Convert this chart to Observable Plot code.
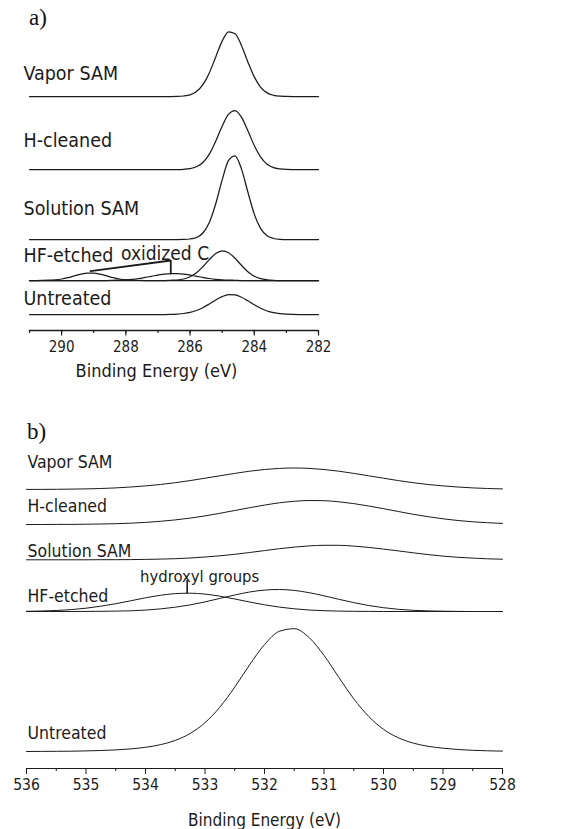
<!DOCTYPE html>
<html>
<head>
<meta charset="utf-8">
<script src="https://cdn.jsdelivr.net/npm/d3@7"></script>
<script src="https://cdn.jsdelivr.net/npm/@observablehq/plot@0.6"></script>
<style>
  body { margin: 0; background: #fff; }
  #fig { position: relative; width: 568px; height: 829px; overflow: hidden; }
  #fig svg { display: block; }
  .tag { position: absolute; font-family: "Liberation Serif", "Times New Roman", serif; font-size: 23px; line-height: 1; color: #111; }
  svg text { font-family: "DejaVu Sans Condensed", "DejaVu Sans", sans-serif; font-stretch: condensed; }
</style>
</head>
<body>
<div id="fig">
  <div id="panelA"></div>
  <div id="panelB"></div>
  <div class="tag" style="left:29px; top:6px;">a)</div>
  <div class="tag" style="left:27px; top:420px;">b)</div>
</div>
<script>
// ---------- a) C 1s spectra: [binding energy (eV), intensity (a.u.)] ----------
const c1sVapor = [[291,0],[286.6,0],[286.4,0.1],[286.2,0.5],[286.0,1.7],[285.8,4.9],[285.6,11.8],[285.4,23.6],[285.2,39.6],[285.0,55.4],[284.8,64.6],[284.6,62.8],[284.4,51.1],[284.2,34.6],[284.0,19.6],[283.8,9.2],[283.6,3.6],[283.4,1.2],[283.2,0.3],[283.0,0.1],[282.8,0],[282,0]];
const c1sHCleaned = [[291,0],[286.4,0],[286.2,0.2],[286.0,0.8],[285.8,2.7],[285.6,7.0],[285.4,15.4],[285.2,28.3],[285.0,43.3],[284.8,55.3],[284.6,58.9],[284.4,52.3],[284.2,38.8],[284.0,24.0],[283.8,12.4],[283.6,5.3],[283.4,1.9],[283.2,0.6],[283.0,0.1],[282.8,0],[282,0]];
const c1sSolution = [[291,0],[286.4,0],[286.2,0.1],[286.0,0.5],[285.8,2.0],[285.6,6.5],[285.4,17.1],[285.2,35.8],[285.0,59.6],[284.8,79.1],[284.6,83.7],[284.4,70.6],[284.2,47.5],[284.0,25.4],[283.8,10.9],[283.6,3.7],[283.4,1.0],[283.2,0.2],[283.0,0],[282,0]];
const c1sHFMain = [[291,0],[286.8,0],[286.6,0.2],[286.4,0.5],[286.2,1.5],[286.0,3.7],[285.8,7.7],[285.6,13.8],[285.4,20.9],[285.2,27.0],[285.0,29.7],[284.8,27.8],[284.6,22.2],[284.4,15.2],[284.2,8.8],[284.0,4.3],[283.8,1.8],[283.6,0.7],[283.4,0.2],[283.2,0],[282,0]];
const c1sHFOxidized1 = [[291,0],[290.8,0],[290.6,0.1],[290.4,0.3],[290.2,0.7],[290.0,1.5],[289.8,2.9],[289.6,4.7],[289.4,6.4],[289.2,7.5],[289.0,7.5],[288.8,6.4],[288.6,4.7],[288.4,2.9],[288.2,1.5],[288.0,0.7],[287.8,0.3],[287.6,0.1],[287.4,0],[282,0]];
const c1sHFOxidized2 = [[291,0],[288.6,0],[288.4,0.2],[288.2,0.4],[288.0,0.7],[287.8,1.2],[287.6,2.0],[287.4,3.1],[287.2,4.2],[287.0,5.4],[286.8,6.4],[286.6,6.9],[286.4,6.9],[286.2,6.4],[286.0,5.4],[285.8,4.2],[285.6,3.1],[285.4,2.0],[285.2,1.2],[285.0,0.7],[284.8,0.4],[284.6,0.2],[284.4,0],[282,0]];
const c1sUntreated = [[291,0],[286.8,0],[286.6,0.1],[286.4,0.4],[286.2,1.0],[286.0,2.1],[285.8,4.0],[285.6,6.8],[285.4,10.5],[285.2,14.5],[285.0,17.9],[284.8,19.8],[284.6,19.6],[284.4,17.3],[284.2,13.7],[284.0,9.7],[283.8,6.2],[283.6,3.5],[283.4,1.8],[283.2,0.8],[283.0,0.3],[282.8,0.1],[282.6,0],[282,0]];

const c1sNames = ["Vapor SAM", "H-cleaned", "Solution SAM", "HF-etched", "Untreated"];
const c1sOffsets = [234, 161, 91, 50, 16];          // vertical offset of each stacked spectrum (a.u.)
const c1sParts = [[c1sVapor], [c1sHCleaned], [c1sSolution], [c1sHFOxidized1, c1sHFOxidized2, c1sHFMain], [c1sUntreated]];
const c1sMajorTicks = [290, 288, 286, 284, 282];
const c1sMinorTicks = [291, 290, 289, 288, 287, 286, 285, 284, 283, 282];
// leader for the oxidized-carbon components, intensities above the HF-etched baseline
const oxidizedLeader = [[289.1, 9.3], [286.6, 20], [286.6, 6.9]];
const oxidizedNote = {E: 288.15, I: 20.5, text: "oxidized C"};

// ---------- b) O 1s spectra ----------
const o1sVapor = [[536.0,0.1],[535.75,0.1],[535.5,0.2],[535.25,0.4],[535.0,0.6],[534.75,1.0],[534.5,1.6],[534.25,2.5],[534.0,3.6],[533.75,5.0],[533.5,6.8],[533.25,8.9],[533.0,11.3],[532.75,13.7],[532.5,16.1],[532.25,18.3],[532.0,20.0],[531.75,21.1],[531.5,21.5],[531.25,21.1],[531.0,20.0],[530.75,18.3],[530.5,16.1],[530.25,13.7],[530.0,11.3],[529.75,8.9],[529.5,6.8],[529.25,5.0],[529.0,3.6],[528.75,2.5],[528.5,1.6],[528.25,1.0],[528.0,0.6]];
const o1sHCleaned = [[536.0,0],[535.75,0],[535.5,0.1],[535.25,0.1],[535.0,0.3],[534.75,0.5],[534.5,0.8],[534.25,1.3],[534.0,2.1],[533.75,3.2],[533.5,4.6],[533.25,6.4],[533.0,8.6],[532.75,11.2],[532.5,14.0],[532.25,16.8],[532.0,19.4],[531.75,21.7],[531.5,23.2],[531.25,24.0],[531.0,23.8],[530.75,22.7],[530.5,20.9],[530.25,18.5],[530.0,15.8],[529.75,13.0],[529.5,10.2],[529.25,7.8],[529.0,5.7],[528.75,4.0],[528.5,2.7],[528.25,1.8],[528.0,1.1]];
const o1sSolution = [[536.0,0],[535.0,0],[534.75,0.1],[534.5,0.1],[534.25,0.2],[534.0,0.4],[533.75,0.7],[533.5,1.1],[533.25,1.8],[533.0,2.8],[532.75,4.0],[532.5,5.5],[532.25,7.3],[532.0,9.2],[531.75,11.1],[531.5,12.7],[531.25,13.9],[531.0,14.5],[530.75,14.5],[530.5,13.7],[530.25,12.4],[530.0,10.7],[529.75,8.9],[529.5,7.0],[529.25,5.2],[529.0,3.7],[528.75,2.5],[528.5,1.7],[528.25,1.0],[528.0,0.6]];
const o1sHFHydroxyl = [[536.0,0.2],[535.75,0.5],[535.5,1.0],[535.25,1.9],[535.0,3.3],[534.75,5.3],[534.5,7.8],[534.25,10.7],[534.0,13.7],[533.75,16.2],[533.5,17.9],[533.25,18.3],[533.0,17.4],[532.75,15.3],[532.5,12.5],[532.25,9.5],[532.0,6.7],[531.75,4.4],[531.5,2.7],[531.25,1.5],[531.0,0.8],[530.75,0.4],[530.5,0.2],[530.25,0.1],[530.0,0],[528.0,0]];
const o1sHFMain = [[536.0,0],[535.25,0],[535.0,0.1],[534.75,0.2],[534.5,0.4],[534.25,0.7],[534.0,1.4],[533.75,2.6],[533.5,4.3],[533.25,6.6],[533.0,9.6],[532.75,13.1],[532.5,16.5],[532.25,19.5],[532.0,21.4],[531.75,22.0],[531.5,21.1],[531.25,18.8],[531.0,15.7],[530.75,12.2],[530.5,8.9],[530.25,6.0],[530.0,3.8],[529.75,2.2],[529.5,1.2],[529.25,0.6],[529.0,0.3],[528.75,0.1],[528.5,0],[528.0,0]];
const o1sUntreated = [[536.0,0],[535.75,0.1],[535.5,0.2],[535.25,0.3],[535.0,0.6],[534.75,1.0],[534.5,1.6],[534.25,2.6],[534.0,4.2],[533.75,6.8],[533.5,11.1],[533.25,18.0],[533.0,28.8],[532.75,44.4],[532.5,64.4],[532.25,86.7],[532.0,106.9],[531.75,120.2],[531.5,122.8],[531.25,113.9],[531.0,96.1],[530.75,74.1],[530.5,52.7],[530.25,35.1],[530.0,22.2],[529.75,13.7],[529.5,8.4],[529.25,5.2],[529.0,3.3],[528.75,2.0],[528.5,1.2],[528.25,0.7],[528.0,0.4]];

const o1sNames = ["Vapor SAM", "H-cleaned", "Solution SAM", "HF-etched", "Untreated"];
const o1sOffsets = [279, 244, 208.7, 157, 17];
const o1sParts = [[o1sVapor], [o1sHCleaned], [o1sSolution], [o1sHFHydroxyl, o1sHFMain], [o1sUntreated]];
const o1sMajorTicks = [536, 535, 534, 533, 532, 531, 530, 529, 528];
const o1sMinorTicks = [535.5, 534.5, 533.5, 532.5, 531.5, 530.5, 529.5, 528.5];
const hydroxylLeader = [[533.3, 18.6], [533.3, 31]];
const hydroxylNote = {E: 533.09, I: 29.3, text: "hydroxyl groups"};

const axisTitle = "Binding Energy (eV)";

// layout: how far each name sits above its baseline (px)
const c1sNameLift = [16.3, 22.2, 24.3, 18.7, 9.3];
const o1sNameLift = [22, 12.3, 2.6, 9.3, 12.7];

const ink = "#1b1b1b";

function toRows(parts, offsets) {
  return parts.flatMap((group, i) => group.flatMap((curve, j) =>
    curve.map(([E, I]) => ({E, y: offsets[i] + I, key: i + "-" + j}))));
}

// ---------- panel a ----------
const rowsA = toRows(c1sParts, c1sOffsets);
const hfA = c1sOffsets[3];
const chartA = Plot.plot({
  width: 568, height: 400,
  marginLeft: 29, marginRight: 250, marginTop: 20, marginBottom: 70,
  style: {background: "white", color: ink, overflow: "visible"},
  x: {domain: [291, 282]},
  y: {domain: [0, 310], axis: null},
  marks: [
    Plot.line(rowsA, {x: "E", y: "y", z: "key", curve: "monotone-x", stroke: ink, strokeWidth: 1.25}),
    Plot.line(oxidizedLeader, {x: d => d[0], y: d => hfA + d[1], stroke: ink, strokeWidth: 1.8}),
    Plot.text([oxidizedNote], {x: "E", y: d => hfA + d.I, text: "text", textAnchor: "start", lineAnchor: "bottom", fontSize: 19, fill: ink}),
    Plot.text(c1sNames, {frameAnchor: "left", y: (d, i) => c1sOffsets[i] + c1sNameLift[i], text: d => d, textAnchor: "start", lineAnchor: "bottom", dx: -6, fontSize: 19.5, fill: ink}),
    Plot.ruleY([0], {stroke: ink, strokeWidth: 1.3}),
    Plot.axisX({ticks: c1sMinorTicks, tickSize: 3, tickFormat: () => "", label: null, strokeWidth: 1.2}),
    Plot.axisX({ticks: c1sMajorTicks, tickSize: 5.5, tickPadding: 5, tickFormat: d => String(d), label: null, fontSize: 15, strokeWidth: 1.2}),
    Plot.text([axisTitle], {frameAnchor: "bottom", dx: -17.5, dy: 46.5, lineAnchor: "bottom", fontSize: 18, fill: ink})
  ]
});
document.getElementById("panelA").append(chartA);

// ---------- panel b ----------
const rowsB = toRows(o1sParts, o1sOffsets);
const hfB = o1sOffsets[3];
const chartB = Plot.plot({
  width: 568, height: 429,
  marginLeft: 26, marginRight: 66, marginTop: 20, marginBottom: 61,
  style: {background: "white", color: ink, overflow: "visible"},
  x: {domain: [536, 528]},
  y: {domain: [0, 348], axis: null},
  marks: [
    Plot.line(rowsB, {x: "E", y: "y", z: "key", curve: "monotone-x", stroke: ink, strokeWidth: 1}),
    Plot.line(hydroxylLeader, {x: d => d[0], y: d => hfB + d[1], stroke: ink, strokeWidth: 1.6}),
    Plot.text([hydroxylNote], {x: "E", y: d => hfB + d.I, text: "text", textAnchor: "middle", lineAnchor: "bottom", fontSize: 16.5, fill: ink}),
    Plot.text(o1sNames, {frameAnchor: "left", y: (d, i) => o1sOffsets[i] + o1sNameLift[i], text: d => d, textAnchor: "start", lineAnchor: "bottom", dx: 1, fontSize: 17.5, fill: ink}),
    Plot.ruleY([0], {stroke: ink, strokeWidth: 1.2}),
    Plot.axisX({ticks: o1sMinorTicks, tickSize: 3, tickFormat: () => "", label: null}),
    Plot.axisX({ticks: o1sMajorTicks, tickSize: 6, tickPadding: 4, tickFormat: d => String(d), label: null, fontSize: 15.5}),
    Plot.text([axisTitle], {frameAnchor: "bottom", dy: 57.5, lineAnchor: "bottom", fontSize: 17, fill: ink})
  ]
});
document.getElementById("panelB").append(chartB);
</script>
</body>
</html>
